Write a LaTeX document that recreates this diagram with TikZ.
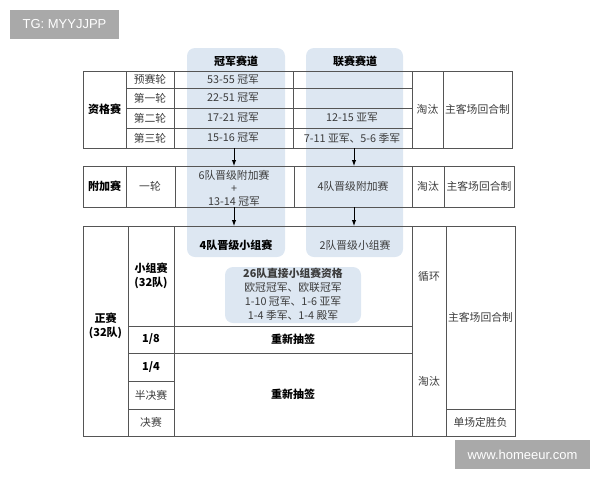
\documentclass[tikz,border=0pt]{standalone}
\usepackage{fontspec}
\setmainfont{Noto Sans CJK SC}
\newfontfamily\wmfont{Liberation Sans}
\usepackage{tikz}
\usetikzlibrary{arrows.meta}

\definecolor{lanefill}{HTML}{DDE7F2}
\definecolor{ink}{HTML}{3C3C3C}
\definecolor{rule}{HTML}{555555}
\definecolor{wmgray}{HTML}{A9A9A9}

\begin{document}
\begin{tikzpicture}[x=1pt,y=-1pt,
        grid/.style={draw=rule, line width=0.8pt},
        txt/.style={font=\fontsize{10.8}{14}\selectfont, text=ink, inner sep=0pt, align=center},
        hd/.style={font=\fontsize{11}{14.5}\selectfont\bfseries, text=black, inner sep=0pt, align=center},
        lane/.style={fill=lanefill, rounded corners=8pt},
        wm/.style={fill=wmgray, text=white, font=\wmfont\fontsize{13}{15}\selectfont, minimum height=29pt, inner sep=0pt}]
    \useasboundingbox (0,0) rectangle (600,480);

    % watermarks
    \node[wm, minimum width=109pt] (tg) at (64.5,24.5) {TG: MYYJJPP};
    \node[wm, minimum width=135pt] (site) at (522.5,454.5) {www.homeeur.com};

    % two lanes
    \fill[lane] (187,48) rectangle (285,257);
    \fill[lane] (306,48) rectangle (403,257);
    \fill[lane] (225,267) rectangle (361,323);

    % qualifying table
    \draw[grid] (83,71) rectangle (512,148);
    \draw[grid] (126,71) -- (126,148);
    \draw[grid] (174,71) -- (174,148);
    \draw[grid] (293,71) -- (293,148);
    \draw[grid] (412,71) -- (412,148);
    \draw[grid] (443,71) -- (443,148);
    \draw[grid] (126,88) -- (412,88);
    \draw[grid] (126,108) -- (412,108);
    \draw[grid] (126,128) -- (412,128);

    % play-off table
    \draw[grid] (83,166) rectangle (514,207);
    \draw[grid] (126,166) -- (126,207);
    \draw[grid] (175,166) -- (175,207);
    \draw[grid] (294,166) -- (294,207);
    \draw[grid] (412,166) -- (412,207);
    \draw[grid] (444,166) -- (444,207);

    % main table
    \draw[grid] (83,226) rectangle (515,436);
    \draw[grid] (128,226) -- (128,436);
    \draw[grid] (174,226) -- (174,436);
    \draw[grid] (412,226) -- (412,436);
    \draw[grid] (446,226) -- (446,436);
    \draw[grid] (128,326) -- (412,326);
    \draw[grid] (128,353) -- (412,353);
    \draw[grid] (128,381) -- (174,381);
    \draw[grid] (128,409) -- (174,409);
    \draw[grid] (446,409) -- (515,409);

    % lane heads
    \node[hd] (chead) at (236,61) {冠军赛道};
    \node[hd] (lhead) at (355,61) {联赛赛道};

    % qualifying
    \node[hd] (qual) at (104.5,109.5) {资格赛};
    \node[txt] (r0) at (150,79.5) {预赛轮};
    \node[txt] (r1) at (150,98) {第一轮};
    \node[txt] (r2) at (150,118) {第二轮};
    \node[txt] (r3) at (150,138) {第三轮};
    \node[txt] (c0) at (233,79.5) {53-55 冠军};
    \node[txt] (c1) at (233,98) {22-51 冠军};
    \node[txt] (c2) at (233,118) {17-21 冠军};
    \node[txt] (c3) at (233,138) {15-16 冠军};
    \node[txt] (l2) at (352,118) {12-15 亚军};
    \node[txt] (l3) at (352,138) {7-11 亚军、5-6 季军};
    \node[txt] (qko) at (427.5,109.5) {淘汰};
    \node[txt] (qhome) at (477.5,109.5) {主客场回合制};

    % play-off
    \node[hd] (play) at (104.5,186.5) {附加赛};
    \node[txt] (p1) at (150,186.5) {一轮};
    \node[txt, font=\fontsize{10.8}{13}\selectfont] (cp) at (234,188) {6队晋级附加赛\\+\\13-14 冠军};
    \node[txt] (lp) at (353,186.5) {4队晋级附加赛};
    \node[txt] (pko) at (428,186.5) {淘汰};
    \node[txt] (phome) at (479,186.5) {主客场回合制};

    % main stage
    \node[hd] (main) at (105.5,326) {正赛\\(32队)};
    \node[hd] (grp) at (151,276) {小组赛\\(32队)};
    \node[hd] (r16) at (151,339.5) {1/8};
    \node[hd] (r8) at (151,367) {1/4};
    \node[txt] (semi) at (151,395) {半决赛};
    \node[txt] (fin) at (151,422.5) {决赛};
    \node[hd] (cg) at (236,245) {4队晋级小组赛};
    \node[txt] (lg) at (355,245) {2队晋级小组赛};
    \node[txt] (direct) at (293,294) {\textbf{26队直接小组赛资格}\\欧冠冠军、欧联冠军\\1-10 冠军、1-6 亚军\\1-4 季军、1-4 殿军};
    \node[hd] (draw1) at (293,339.5) {重新抽签};
    \node[hd] (draw2) at (293,394.5) {重新抽签};
    \node[txt] (rr) at (429,276) {循环};
    \node[txt] (mko) at (429,381) {淘汰};
    \node[txt] (mhome) at (480.5,317.5) {主客场回合制};
    \node[txt] (single) at (480.5,422.5) {单场定胜负};

    % arrows between tables
    \coordinate (ca) at (234,148);
    \coordinate (cb) at (234,166);
    \coordinate (cc) at (234,207);
    \coordinate (cd) at (234,226);
    \coordinate (la) at (354,148);
    \coordinate (lb) at (354,166);
    \coordinate (lc) at (354,207);
    \coordinate (ld) at (354,226);
    \draw[-{Latex[length=6pt,width=4.5pt]}, line width=1pt] (ca) -- (cb);
    \draw[-{Latex[length=6pt,width=4.5pt]}, line width=1pt] (la) -- (lb);
    \draw[-{Latex[length=6pt,width=4.5pt]}, line width=1pt] (cc) -- (cd);
    \draw[-{Latex[length=6pt,width=4.5pt]}, line width=1pt] (lc) -- (ld);
\end{tikzpicture}
\end{document}
